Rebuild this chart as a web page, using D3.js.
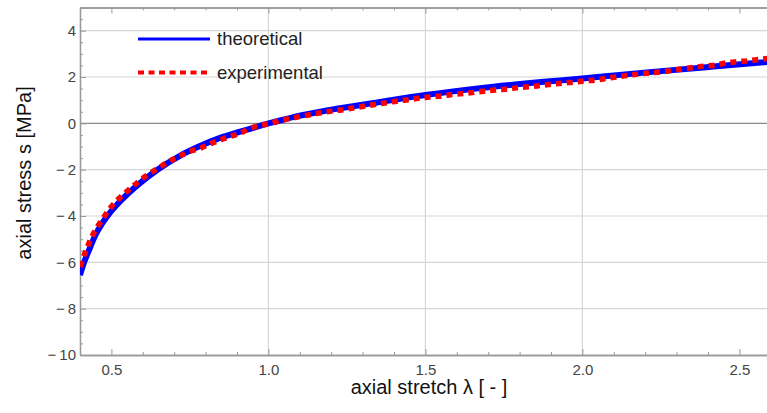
<!DOCTYPE html>
<html>
<head>
<meta charset="utf-8">
<script src="https://cdn.jsdelivr.net/npm/d3@7"></script>
<style>
  body { margin: 0; background: #fff; }
  svg { display: block; font-family: "Liberation Sans", Arial, sans-serif; }
</style>
</head>
<body>
<div id="chart"></div>
<script>
// theoretical curve
var stretchTheory = [0.40, 0.413, 0.427, 0.448, 0.469, 0.49, 0.522, 0.554, 0.591, 0.649, 0.718, 0.782, 0.846, 0.91, 0.973, 1.0, 1.025, 1.089, 1.196, 1.355, 1.5, 1.674, 2.0, 2.205, 2.417, 2.6];
var stressTheory = [-6.55, -6.0, -5.53, -4.85, -4.35, -3.95, -3.45, -3.02, -2.58, -1.98, -1.40, -0.98, -0.63, -0.36, -0.11, 0.0, 0.08, 0.30, 0.58, 0.92, 1.22, 1.52, 1.94, 2.2, 2.45, 2.66];

// experimental data
var stretchExp = [0.40, 0.405, 0.424, 0.437, 0.455, 0.474, 0.493, 0.517, 0.543, 0.570, 0.596, 0.618, 0.649, 0.681, 0.715, 0.748, 0.782, 0.814, 0.846, 0.878, 0.912, 0.944, 0.973, 1.006, 1.037, 1.069, 1.101, 1.138, 1.175, 1.207, 1.244, 1.281, 1.313, 1.377, 1.414, 1.451, 1.485, 1.522, 1.557, 1.591, 1.626, 1.663, 1.697, 1.732, 1.767, 1.801, 1.835, 1.870, 1.904, 1.939, 1.973, 2.010, 2.043, 2.077, 2.112, 2.146, 2.180, 2.215, 2.250, 2.284, 2.318, 2.353, 2.387, 2.422, 2.459, 2.493, 2.528, 2.563, 2.6];
var stressExp = [-6.2, -6.0, -5.32, -4.91, -4.48, -4.09, -3.71, -3.34, -3.02, -2.70, -2.41, -2.20, -1.94, -1.66, -1.43, -1.22, -1.08, -0.89, -0.72, -0.57, -0.41, -0.2, -0.1, 0.0, 0.11, 0.21, 0.29, 0.39, 0.47, 0.54, 0.60, 0.69, 0.76, 0.89, 0.97, 1.03, 1.10, 1.15, 1.19, 1.25, 1.29, 1.35, 1.41, 1.45, 1.49, 1.55, 1.58, 1.64, 1.69, 1.74, 1.78, 1.84, 1.87, 1.94, 2.01, 2.07, 2.13, 2.18, 2.22, 2.28, 2.35, 2.41, 2.47, 2.51, 2.61, 2.66, 2.70, 2.76, 2.82];

var xTicks = [0.5, 1.0, 1.5, 2.0, 2.5];
var yTicks = [-10, -8, -6, -4, -2, 0, 2, 4];
var xGrid = [1.0, 1.5, 2.0];
var yGrid = [-8, -6, -4, -2, 2, 4];
var legendLabels = ["theoretical", "experimental"];

var width = 767, height = 413;
var plotLeft = 80, plotTop = 7.5, plotBottom = 355;

var svg = d3.select("#chart").append("svg")
  .attr("width", width).attr("height", height);

var x = d3.scaleLinear().domain([0.4, 2.6]).range([plotLeft, plotLeft + 2.2 * 314]);
var y = d3.scaleLinear().domain([-10, 5]).range([plotBottom, plotTop]);

var x0 = x.range()[0], x1 = x.range()[1];

// grid lines
svg.append("g").selectAll("line").data(yGrid).enter().append("line")
  .attr("x1", x0).attr("x2", x1)
  .attr("y1", d => y(d)).attr("y2", d => y(d))
  .attr("stroke", "#d6d6d6").attr("stroke-width", 1.2);
svg.append("g").selectAll("line").data(xGrid).enter().append("line")
  .attr("x1", d => x(d)).attr("x2", d => x(d))
  .attr("y1", plotTop).attr("y2", plotBottom)
  .attr("stroke", "#d6d6d6").attr("stroke-width", 1.2);
// zero line
svg.append("line")
  .attr("x1", x0).attr("x2", x1).attr("y1", y(0)).attr("y2", y(0))
  .attr("stroke", "#8a8a8a").attr("stroke-width", 1.2);

// minor tick positions
var xMinor = d3.range(4, 27).map(d => d / 10).filter(d => Math.abs(d * 2 - Math.round(d * 2)) > 1e-6);
var yMinor = d3.range(-20, 11).map(d => d / 2).filter(d => d % 2 !== 0);

var fmtY = d => d < 0 ? "\u2212\u2009" + Math.abs(d) : d;

function styleAxis(g) {
  g.select(".domain").attr("stroke", "#999").attr("stroke-width", 1.3);
  g.selectAll(".tick line").attr("stroke", "#999");
  g.selectAll(".tick text").attr("fill", "#444").style("font-size", "15px");
}

// bottom axis
svg.append("g").attr("transform", `translate(0,${plotBottom})`)
  .call(d3.axisBottom(x).tickValues(xTicks).tickFormat(d3.format(".1f")).tickSize(-6).tickSizeOuter(0).tickPadding(9))
  .call(styleAxis);
svg.append("g").attr("transform", `translate(0,${plotBottom})`)
  .call(d3.axisBottom(x).tickValues(xMinor).tickFormat("").tickSize(-3).tickSizeOuter(0))
  .call(styleAxis);
// top axis
svg.append("g").attr("transform", `translate(0,${plotTop})`)
  .call(d3.axisTop(x).tickValues(xTicks).tickFormat("").tickSize(-6).tickSizeOuter(0))
  .call(styleAxis);
svg.append("g").attr("transform", `translate(0,${plotTop})`)
  .call(d3.axisTop(x).tickValues(xMinor).tickFormat("").tickSize(-3).tickSizeOuter(0))
  .call(styleAxis);
// left axis
svg.append("g").attr("transform", `translate(${plotLeft},0)`)
  .call(d3.axisLeft(y).tickValues(yTicks).tickFormat(fmtY).tickSize(-6).tickSizeOuter(0).tickPadding(4))
  .call(styleAxis);
svg.append("g").attr("transform", `translate(${plotLeft},0)`)
  .call(d3.axisLeft(y).tickValues(yMinor).tickFormat("").tickSize(-3).tickSizeOuter(0))
  .call(styleAxis);

// curves
svg.append("clipPath").attr("id", "plotClip").append("rect")
  .attr("x", x0).attr("y", plotTop).attr("width", x1 - x0).attr("height", plotBottom - plotTop);

var line = d3.line().x(d => x(d[0])).y(d => y(d[1])).curve(d3.curveMonotoneX);

svg.append("path")
  .attr("clip-path", "url(#plotClip)")
  .attr("d", line(d3.zip(stretchTheory, stressTheory)))
  .attr("fill", "none").attr("stroke", "#0000ff").attr("stroke-width", 6);

svg.append("path")
  .attr("clip-path", "url(#plotClip)")
  .attr("d", line(d3.zip(stretchExp, stressExp)))
  .attr("fill", "none").attr("stroke", "#ff0000").attr("stroke-width", 5.5)
  .attr("stroke-dasharray", "6,5");

// legend
var legend = svg.append("g");
legend.append("line").attr("x1", 138).attr("x2", 210).attr("y1", 39).attr("y2", 39)
  .attr("stroke", "#0000ff").attr("stroke-width", 3);
legend.append("line").attr("x1", 138).attr("x2", 210).attr("y1", 72.5).attr("y2", 72.5)
  .attr("stroke", "#ff0000").attr("stroke-width", 4).attr("stroke-dasharray", "6,4.5");
legend.selectAll("text").data(legendLabels).enter().append("text")
  .attr("x", 217).attr("y", (d, i) => i ? 72.5 : 39).attr("dy", "0.35em")
  .style("font-size", "18.5px").attr("fill", "#222").text(d => d);

// axis titles
svg.append("text").attr("x", 429).attr("y", 394).attr("text-anchor", "middle")
  .style("font-size", "20px").attr("fill", "#111").text("axial stretch \u03bb [ - ]");
svg.append("text").attr("transform", "translate(31,173) rotate(-90)").attr("text-anchor", "middle")
  .style("font-size", "20px").attr("fill", "#111").text("axial stress s [MPa]");
</script>
</body>
</html>
